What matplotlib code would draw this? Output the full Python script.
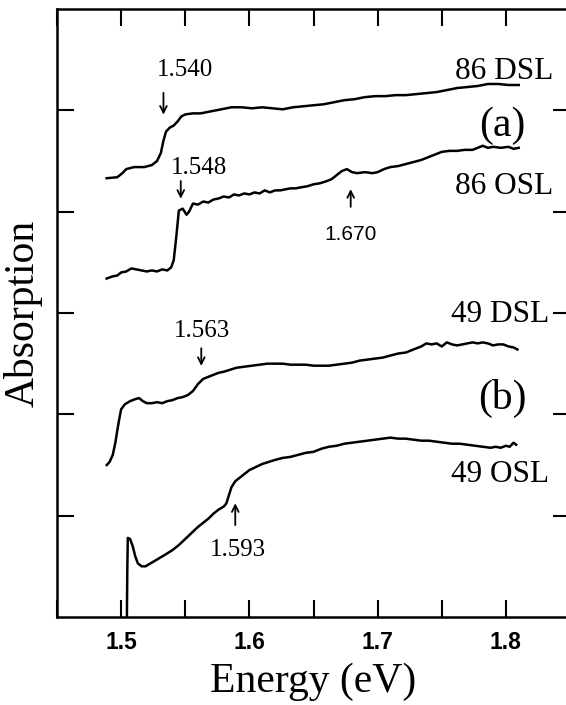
import numpy as np
import matplotlib.pyplot as plt
from matplotlib.ticker import MultipleLocator, NullFormatter

# Spectra (offset for display)
e_86dsl = [1.4887, 1.497, 1.501, 1.504, 1.510, 1.518, 1.524, 1.528, 1.531, 1.533, 1.535, 1.538,
           1.541, 1.544, 1.547, 1.550, 1.556, 1.562, 1.570, 1.578, 1.586, 1.594, 1.602, 1.610,
           1.618, 1.626, 1.634, 1.642, 1.650, 1.658, 1.666, 1.674, 1.682, 1.690, 1.698, 1.706,
           1.714, 1.722, 1.730, 1.738, 1.746, 1.754, 1.762, 1.770, 1.778, 1.786, 1.794, 1.802, 1.810]
a_86dsl = [4.33, 4.34, 4.38, 4.42, 4.44, 4.44, 4.46, 4.50, 4.58, 4.70, 4.79, 4.83,
           4.85, 4.89, 4.94, 4.96, 4.97, 4.97, 4.99, 5.01, 5.03, 5.03, 5.02, 5.03,
           5.02, 5.01, 5.03, 5.04, 5.05, 5.06, 5.08, 5.10, 5.11, 5.13, 5.14, 5.14,
           5.15, 5.15, 5.16, 5.17, 5.18, 5.20, 5.22, 5.23, 5.24, 5.26, 5.26, 5.25, 5.25]

e_86osl = [1.4887, 1.493, 1.497, 1.500, 1.504, 1.508, 1.512, 1.516, 1.520, 1.524, 1.528, 1.532,
           1.536, 1.539, 1.541, 1.543, 1.545, 1.548, 1.551, 1.553, 1.556, 1.560, 1.564, 1.568,
           1.572, 1.576, 1.580, 1.584, 1.588, 1.592, 1.596, 1.600, 1.604, 1.608, 1.612, 1.616,
           1.620, 1.624, 1.628, 1.632, 1.636, 1.640, 1.645, 1.650, 1.655, 1.660, 1.664, 1.668,
           1.672, 1.676, 1.680, 1.684, 1.690, 1.696, 1.700, 1.705, 1.710, 1.716, 1.722, 1.728,
           1.734, 1.740, 1.746, 1.750, 1.756, 1.762, 1.768, 1.774, 1.778, 1.782, 1.786, 1.790,
           1.796, 1.802, 1.806, 1.810]
a_86osl = [3.34, 3.36, 3.37, 3.40, 3.41, 3.44, 3.43, 3.42, 3.41, 3.42, 3.41, 3.43,
           3.42, 3.45, 3.52, 3.75, 4.01, 4.03, 3.97, 4.00, 4.08, 4.07, 4.10, 4.09,
           4.12, 4.13, 4.15, 4.14, 4.17, 4.16, 4.18, 4.17, 4.19, 4.18, 4.21, 4.19,
           4.21, 4.21, 4.22, 4.23, 4.23, 4.24, 4.25, 4.27, 4.28, 4.30, 4.32, 4.36,
           4.40, 4.42, 4.39, 4.38, 4.39, 4.38, 4.39, 4.42, 4.44, 4.45, 4.47, 4.49,
           4.51, 4.54, 4.57, 4.59, 4.60, 4.60, 4.61, 4.61, 4.63, 4.65, 4.63, 4.64,
           4.63, 4.64, 4.62, 4.63]

e_49dsl = [1.4888, 1.491, 1.4935, 1.4955, 1.497, 1.4985, 1.500, 1.503, 1.507, 1.511, 1.514, 1.517,
           1.520, 1.524, 1.528, 1.532, 1.536, 1.540, 1.544, 1.548, 1.552, 1.556, 1.560, 1.564,
           1.568, 1.572, 1.576, 1.580, 1.585, 1.590, 1.596, 1.602, 1.608, 1.614, 1.620, 1.626,
           1.632, 1.638, 1.644, 1.650, 1.656, 1.662, 1.668, 1.674, 1.680, 1.686, 1.692, 1.698,
           1.704, 1.710, 1.716, 1.722, 1.728, 1.734, 1.738, 1.742, 1.746, 1.750, 1.754, 1.758,
           1.762, 1.766, 1.770, 1.774, 1.778, 1.782, 1.786, 1.790, 1.794, 1.798, 1.802, 1.806, 1.809]
a_49dsl = [1.50, 1.53, 1.60, 1.72, 1.84, 1.95, 2.05, 2.10, 2.13, 2.15, 2.16, 2.13,
           2.11, 2.11, 2.12, 2.11, 2.13, 2.14, 2.16, 2.17, 2.19, 2.23, 2.30, 2.35,
           2.37, 2.39, 2.41, 2.42, 2.44, 2.46, 2.47, 2.48, 2.49, 2.50, 2.50, 2.50,
           2.49, 2.49, 2.49, 2.48, 2.48, 2.48, 2.49, 2.50, 2.51, 2.53, 2.54, 2.55,
           2.56, 2.58, 2.60, 2.61, 2.64, 2.67, 2.70, 2.69, 2.70, 2.67, 2.71, 2.69,
           2.68, 2.69, 2.70, 2.71, 2.70, 2.71, 2.70, 2.68, 2.69, 2.69, 2.67, 2.66, 2.64]

e_49osl = [1.5045, 1.5048, 1.5052, 1.507, 1.509, 1.511, 1.513, 1.516, 1.519, 1.523, 1.527, 1.531,
           1.535, 1.540, 1.545, 1.550, 1.555, 1.560, 1.564, 1.568, 1.572, 1.576, 1.580, 1.582,
           1.584, 1.586, 1.589, 1.592, 1.596, 1.600, 1.605, 1.610, 1.615, 1.620, 1.626, 1.632,
           1.638, 1.644, 1.650, 1.656, 1.662, 1.668, 1.674, 1.680, 1.686, 1.692, 1.698, 1.704,
           1.710, 1.716, 1.722, 1.728, 1.734, 1.740, 1.746, 1.752, 1.758, 1.764, 1.770, 1.776,
           1.782, 1.788, 1.792, 1.796, 1.800, 1.803, 1.806, 1.808]
a_49osl = [0.00, 0.45, 0.78, 0.77, 0.70, 0.60, 0.53, 0.50, 0.50, 0.53, 0.56, 0.59,
           0.62, 0.66, 0.71, 0.77, 0.83, 0.89, 0.93, 0.97, 1.02, 1.06, 1.09, 1.12,
           1.20, 1.28, 1.34, 1.37, 1.41, 1.45, 1.48, 1.51, 1.53, 1.55, 1.57, 1.58,
           1.60, 1.62, 1.63, 1.66, 1.68, 1.69, 1.71, 1.72, 1.73, 1.74, 1.75, 1.76,
           1.77, 1.76, 1.76, 1.75, 1.74, 1.74, 1.73, 1.72, 1.71, 1.71, 1.70, 1.69,
           1.68, 1.67, 1.68, 1.67, 1.69, 1.68, 1.72, 1.70]

serif = 'Liberation Serif'
sans = 'Liberation Sans'

fig = plt.figure(figsize=(5.66, 7.05), dpi=100)
ax = fig.add_axes([57 / 566, 88 / 705, 513 / 566, 608 / 705])

for e, a in [(e_86dsl, a_86dsl), (e_86osl, a_86osl), (e_49dsl, a_49dsl), (e_49osl, a_49osl)]:
    ax.plot(e, a, color='black', lw=1.8)

ax.set_xlim(1.45, 1.85)
ax.set_ylim(0, 6)
ax.xaxis.set_minor_locator(MultipleLocator(0.05))
ax.set_xticks([1.5, 1.6, 1.7, 1.8])
ax.set_xticklabels(['1.5', '1.6', '1.7', '1.8'], fontfamily=sans, fontsize=16.5,
                   fontweight='bold')
ax.set_yticks([1, 2, 3, 4, 5])
ax.yaxis.set_major_formatter(NullFormatter())
ax.tick_params(which='both', direction='in', length=12, width=1.5,
               top=True, right=True, pad=10)
for s in ax.spines.values():
    s.set_linewidth(1.8)

ax.set_xlabel('Energy (eV)', fontfamily=serif, fontsize=30, labelpad=6)
ax.set_ylabel('Absorption', fontfamily=serif, fontsize=30, labelpad=0)

# curve labels
ax.text(1.837, 5.31, '86 DSL', family=serif, fontsize=22.5, ha='right', va='baseline')
ax.text(1.797, 4.85, '(a)', family=serif, fontsize=30, ha='center', va='center')
ax.text(1.837, 4.17, '86 OSL', family=serif, fontsize=22.5, ha='right', va='baseline')
ax.text(1.834, 2.91, '49 DSL', family=serif, fontsize=22.5, ha='right', va='baseline')
ax.text(1.797, 2.16, '(b)', family=serif, fontsize=30, ha='center', va='center')
ax.text(1.834, 1.33, '49 OSL', family=serif, fontsize=22.5, ha='right', va='baseline')

# feature markers
arrow = dict(arrowstyle='->', lw=1.3, color='black', mutation_scale=12)
ax.text(1.550, 5.34, '1.540', family=serif, fontsize=18, ha='center', va='baseline')
ax.annotate('', xy=(1.533, 4.93), xytext=(1.533, 5.20), arrowprops=arrow)
ax.text(1.5606, 4.37, '1.548', family=serif, fontsize=18, ha='center', va='baseline')
ax.annotate('', xy=(1.5465, 4.10), xytext=(1.5465, 4.33), arrowprops=arrow)
ax.text(1.679, 3.72, '1.670', family=sans, fontsize=15, ha='center', va='baseline')
ax.annotate('', xy=(1.679, 4.25), xytext=(1.679, 4.02), arrowprops=arrow)
ax.text(1.5634, 2.76, '1.563', family=serif, fontsize=18, ha='center', va='baseline')
ax.annotate('', xy=(1.5625, 2.45), xytext=(1.5625, 2.68), arrowprops=arrow)
ax.text(1.591, 0.60, '1.593', family=serif, fontsize=18, ha='center', va='baseline')
ax.annotate('', xy=(1.589, 1.15), xytext=(1.589, 0.88), arrowprops=arrow)

fig.savefig('out.png', dpi=100)
